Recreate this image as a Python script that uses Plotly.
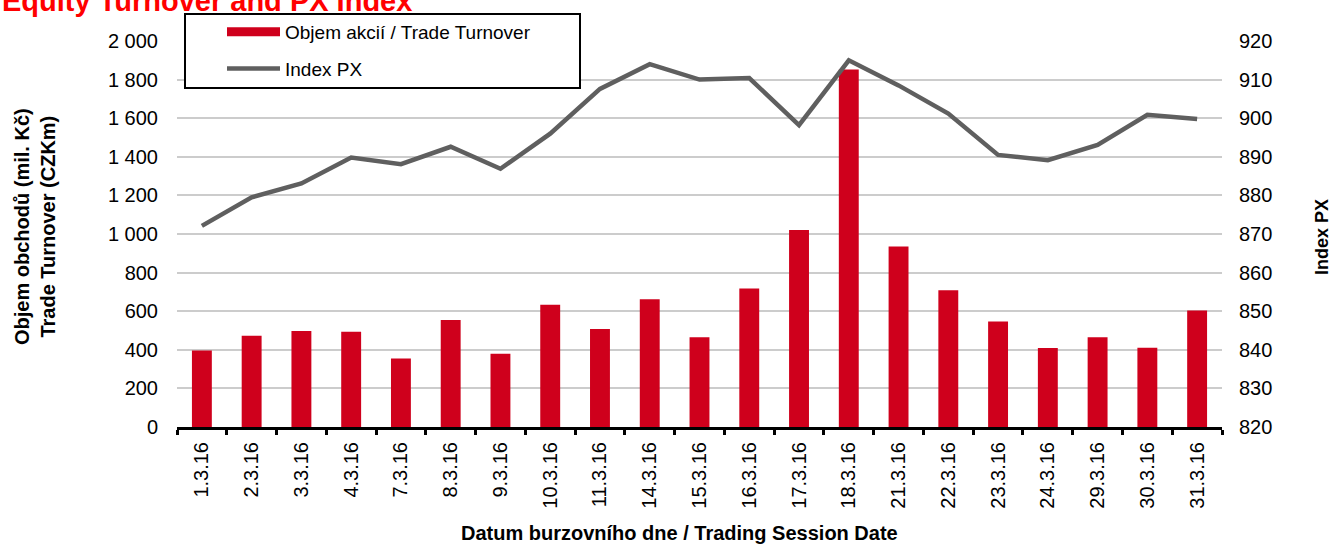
import plotly.graph_objects as go

dates = ["1.3.16", "2.3.16", "3.3.16", "4.3.16", "7.3.16", "8.3.16", "9.3.16",
         "10.3.16", "11.3.16", "14.3.16", "15.3.16", "16.3.16", "17.3.16", "18.3.16",
         "21.3.16", "22.3.16", "23.3.16", "24.3.16", "29.3.16", "30.3.16", "31.3.16"]
turnover = [397, 473, 498, 493, 355, 555, 379, 634, 508, 662, 465, 717, 1021, 1852,
            935, 709, 546, 409, 465, 410, 604]
px_index = [872.1, 879.5, 883.1, 889.8, 888.1, 892.6, 886.9, 896.0, 907.6, 914.0,
            910.0, 910.4, 898.2, 915.0, 908.5, 901.2, 890.5, 889.1, 893.1, 900.9, 899.8]

FONT = "Arial, Liberation Sans, sans-serif"
BAR_COLOR = "#CF001C"
LINE_COLOR = "#5F5F5F"

fig = go.Figure()
fig.add_trace(go.Bar(x=dates, y=turnover, name="Objem akcií / Trade Turnover",
                     marker=dict(color=BAR_COLOR, line=dict(width=0)),
                     showlegend=False, yaxis="y"))
fig.add_trace(go.Scatter(x=dates, y=px_index, name="Index PX", mode="lines",
                         line=dict(color=LINE_COLOR, width=4.5),
                         legendgroup="b", showlegend=False, yaxis="y2"))
# legend entries (wide swatches like the original)
fig.add_trace(go.Scatter(x=[None], y=[None], name="Objem akcií / Trade Turnover",
                         mode="lines", line=dict(color=BAR_COLOR, width=9),
                         legendgroup="a", hoverinfo="skip"))
fig.add_trace(go.Scatter(x=[None], y=[None], name="Index PX", mode="lines",
                         line=dict(color=LINE_COLOR, width=4.5),
                         legendgroup="b", hoverinfo="skip", yaxis="y2"))

fig.update_layout(
    width=1335, height=545,
    margin=dict(l=177, r=113, t=41, b=118, pad=0),
    plot_bgcolor="white", paper_bgcolor="white",
    separators=", ",
    font=dict(family=FONT, size=20, color="black"),
    bargap=0.6,
    showlegend=True,
    legend=dict(x=(222 - 177) / 1045, y=(427 - 13) / 386, xanchor="left", yanchor="top",
                bgcolor="rgba(0,0,0,0)", borderwidth=0,
                font=dict(size=19, family=FONT), traceorder="grouped",
                tracegroupgap=9, itemwidth=53),
    shapes=[dict(type="rect", xref="paper", yref="paper", layer="above",
                 x0=(185 - 177) / 1045, x1=(580 - 177) / 1045,
                 y0=(427 - 88) / 386, y1=(427 - 14) / 386,
                 line=dict(color="black", width=2), fillcolor="white")],
    xaxis=dict(type="category", showline=True, linecolor="black", linewidth=3,
               ticks="outside", tickson="boundaries", ticklen=5, tickwidth=3,
               tickcolor="black", tickangle=-90, tickfont=dict(size=20),
               showgrid=False, zeroline=False, ticklabelstandoff=4),
    yaxis=dict(range=[0, 2000], dtick=200, tickformat=",d", showgrid=True,
               gridcolor="#CCCCCC", gridwidth=1.5, zeroline=False, showline=False,
               ticks="", tickfont=dict(size=20), ticklabelstandoff=18),
    yaxis2=dict(range=[820, 920], dtick=10, overlaying="y", side="right",
                showgrid=False, zeroline=False, showline=False, ticks="",
                tickfont=dict(size=20), ticklabelstandoff=16),
    annotations=[
        dict(text="<b>Equity Turnover and PX Index</b>", xref="paper", yref="paper",
             x=-0.1694, y=1.1037, xanchor="left", yanchor="middle", showarrow=False,
             font=dict(size=29, color="#FF0000", family=FONT)),
        dict(text="<b>Objem obchodů (mil. Kč)<br>Trade Turnover (CZKm)</b>",
             xref="paper", yref="paper", x=-0.1359, y=0.5207, textangle=-90,
             xanchor="center", yanchor="middle", showarrow=False,
             font=dict(size=20, family=FONT)),
        dict(text="<b>Index PX</b>", xref="paper", yref="paper", x=1.0957, y=0.492,
             textangle=-90, xanchor="center", yanchor="middle", showarrow=False,
             font=dict(size=18, family=FONT)),
        dict(text="<b>Datum burzovního dne / Trading Session Date</b>", xref="paper",
             yref="paper", x=0.4804, y=-0.2746, xanchor="center", yanchor="middle",
             showarrow=False, font=dict(size=20, family=FONT)),
    ],
)

fig.write_html("out.html", config={"displayModeBar": False},
               post_script="document.body.style.margin='0';document.body.style.overflow='hidden';")
